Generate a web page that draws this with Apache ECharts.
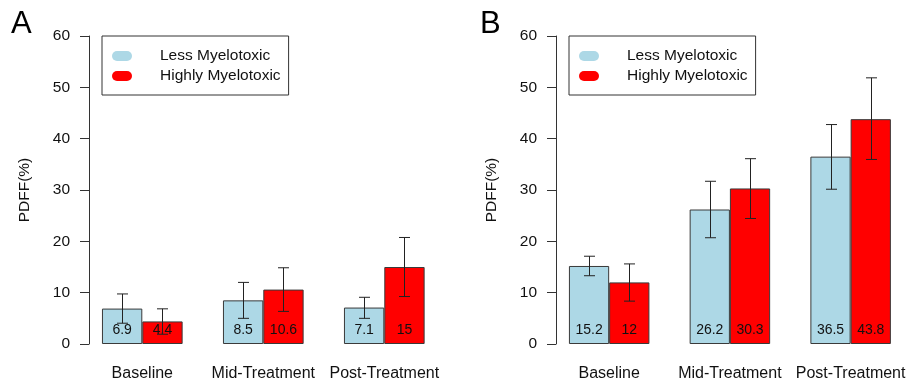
<!DOCTYPE html>
<html><head><meta charset="utf-8">
<script src="https://cdn.jsdelivr.net/npm/echarts@6/dist/echarts.min.js"></script>
<style>html,body{margin:0;padding:0;background:#fff}#c{width:911px;height:388px}</style>
</head><body><div id="c"></div>
<script>
const categories = ['Baseline', 'Mid-Treatment', 'Post-Treatment'];
const seriesNames = ['Less Myelotoxic', 'Highly Myelotoxic'];
const yTicks = [0, 10, 20, 30, 40, 50, 60];

// Panel A
const aLess = [6.9, 8.5, 7.1];
const aHigh = [4.4, 10.6, 15];
const aLessLow = [4.05, 5.0, 5.0];
const aLessHigh = [9.75, 12.0, 9.1];
const aHighLow = [1.9, 6.35, 9.25];
const aHighHigh = [6.85, 14.85, 20.75];

// Panel B
const bLess = [15.2, 26.2, 36.5];
const bHigh = [12, 30.3, 43.8];
const bLessLow = [13.3, 20.7, 30.15];
const bLessHigh = [17.1, 31.7, 42.75];
const bHighLow = [8.35, 24.45, 35.95];
const bHighHigh = [15.6, 36.1, 51.85];

const FONT = 'Liberation Sans, Arial, sans-serif';
const TXT = '#111';
const AX = '#333';
const LESS_C = '#ADD8E6';
const HIGH_C = '#FF0000';

function errData(lessLow, lessHigh, highLow, highHigh) {
  const d = [];
  for (let i = 0; i < categories.length; i++) {
    d.push([i, 0, lessLow[i], lessHigh[i]]);
    d.push([i, 1, highLow[i], highHigh[i]]);
  }
  return d;
}

function renderErr(params, api) {
  const ci = api.value(0), side = api.value(1);
  const lo = api.coord([ci, api.value(2)]);
  const hi = api.coord([ci, api.value(3)]);
  const band = api.size([1, 0])[0];
  const off = (side === 0 ? -1 : 1) * band / 6;
  const x = Math.round(lo[0] + off) + 0.5;
  const cap = 5.5;
  const st = { stroke: '#222', lineWidth: 1, fill: null };
  return {
    type: 'group',
    children: [
      { type: 'line', shape: { x1: x, y1: lo[1], x2: x, y2: hi[1] }, style: st },
      { type: 'line', shape: { x1: x - cap, y1: lo[1], x2: x + cap, y2: lo[1] }, style: st },
      { type: 'line', shape: { x1: x - cap, y1: hi[1], x2: x + cap, y2: hi[1] }, style: st }
    ]
  };
}

const gridW = 363;
const gridsLeft = [81.8, 548.8];
const axisX = [89, 556];

function barSeries(name, data, idx, color) {
  return {
    type: 'bar', name: name, data: data, xAxisIndex: idx, yAxisIndex: idx,
    barGap: '0%', barCategoryGap: '33.333%',
    itemStyle: { color: color, borderColor: '#3a3a3a', borderWidth: 1 },
    label: { show: true, position: 'insideBottom', distance: 7, fontSize: 14, color: TXT, fontFamily: FONT },
    emphasis: { disabled: true },
    animation: false
  };
}

const pill = 'path://M5,0 L15,0 A5,5 0 0 1 15,10 L5,10 A5,5 0 0 1 5,0 Z';

const option = {
  animation: false,
  textStyle: { fontFamily: FONT },
  title: [
    { text: 'A', left: 11, top: 9, padding: 0, textStyle: { fontSize: 31, fontWeight: 'normal', color: '#000', fontFamily: FONT } },
    { text: 'B', left: 480, top: 9, padding: 0, textStyle: { fontSize: 31, fontWeight: 'normal', color: '#000', fontFamily: FONT } }
  ],
  grid: gridsLeft.map(l => ({ left: l, top: 36, width: gridW, height: 308, containLabel: false })),
  xAxis: [0, 1].map(i => ({
    type: 'category', gridIndex: i, data: categories,
    axisLine: { show: false }, axisTick: { show: false },
    axisLabel: { margin: 22, fontSize: 16, color: TXT, fontFamily: FONT, interval: 0 }
  })),
  yAxis: [0, 1].map(i => ({
    type: 'value', gridIndex: i, min: 0, max: 60, interval: 10,
    offset: -(axisX[i] - gridsLeft[i]),
    name: 'PDFF(%)', nameLocation: 'middle', nameGap: 56,
    nameTextStyle: { fontSize: 15.5, color: TXT, fontFamily: FONT },
    axisLine: { show: true, lineStyle: { color: AX, width: 1 } },
    axisTick: { show: true, length: 9, lineStyle: { color: AX } },
    axisLabel: { margin: 19, fontSize: 15.5, color: TXT, fontFamily: FONT,
      formatter: v => (yTicks.indexOf(v) >= 0 ? String(v) : '') },
    splitLine: { show: false }
  })),
  legend: [0, 1].map(i => ({
    orient: 'vertical', left: axisX[i] + 13, top: 36,
    data: seriesNames, selectedMode: false,
    icon: pill, itemWidth: 20, itemHeight: 10, itemGap: 4,
    itemStyle: { borderWidth: 0 },
    padding: [12, 8, 11, 10],
    borderColor: '#333', borderWidth: 1,
    textStyle: { fontSize: 15.5, color: TXT, fontFamily: FONT, padding: [0, 0, 0, 23] }
  })),
  series: [
    barSeries(seriesNames[0], aLess, 0, LESS_C),
    barSeries(seriesNames[1], aHigh, 0, HIGH_C),
    barSeries(seriesNames[0], bLess, 1, LESS_C),
    barSeries(seriesNames[1], bHigh, 1, HIGH_C),
    { type: 'custom', xAxisIndex: 0, yAxisIndex: 0, renderItem: renderErr, data: errData(aLessLow, aLessHigh, aHighLow, aHighHigh), z: 5, silent: true },
    { type: 'custom', xAxisIndex: 1, yAxisIndex: 1, renderItem: renderErr, data: errData(bLessLow, bLessHigh, bHighLow, bHighHigh), z: 5, silent: true }
  ]
};

const chart = echarts.init(document.getElementById('c'), null, { renderer: 'canvas' });
chart.setOption(option);
</script>
</body></html>
